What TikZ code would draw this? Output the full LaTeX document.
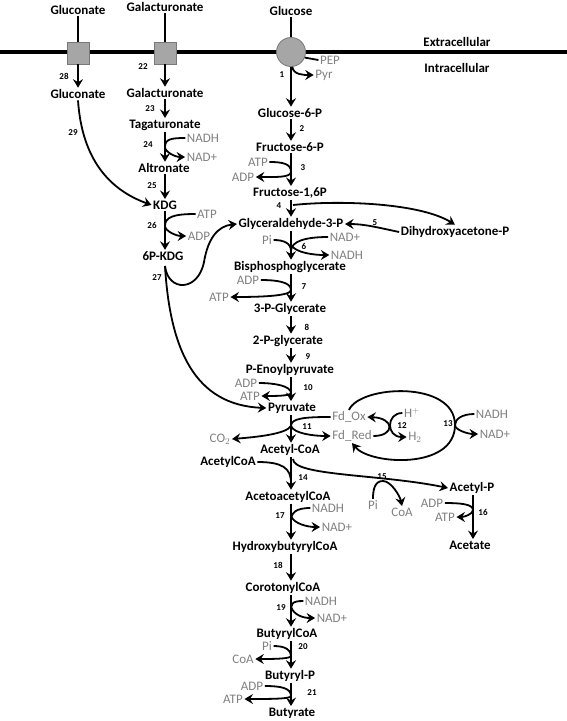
\documentclass[tikz,border=0pt]{standalone}
\usepackage{fontspec}
\setmainfont{Carlito}
\usetikzlibrary{arrows.meta}
\definecolor{cofgray}{RGB}{128,128,128}
\definecolor{portgray}{RGB}{166,166,166}
\definecolor{portedge}{RGB}{120,120,120}

\tikzset{
  met/.style={font=\bfseries\fontsize{13}{15}\selectfont, inner sep=1.5pt},
  cof/.style={font=\fontsize{13}{15}\selectfont, text=cofgray, inner sep=1.5pt},
  num/.style={font=\bfseries\fontsize{9}{10}\selectfont, inner sep=0pt},
  ln/.style={line width=1.8pt},
  rx/.style={->, line width=1.8pt},
  port/.style={draw=portedge, fill=portgray, line width=0.8pt, inner sep=0pt},
}

\begin{document}
\begin{tikzpicture}[x=1pt,y=-1pt,>={Stealth[length=8.5pt,width=10pt,inset=3pt]}]
    \useasboundingbox (0,0) rectangle (567,721);
    % columns
    \coordinate (lx) at (165,0);
    \coordinate (ax) at (291,0);
    \coordinate (cx) at (473,0);

    % membrane
    \draw[line width=4pt] (0,52) -- (567,52);
    \node[met] (extra) at (457,42) {Extracellular};
    \node[met] (intra) at (457,68) {Intracellular};
    \node[port, minimum size=22pt] (tglcn) at (78,53) {};
    \node[port, minimum size=22pt] (tgala) at (165,53) {};
    \node[port, circle, minimum size=29pt] (pts) at (291,52) {};

    % metabolites
    \node[met] (glcnx) at (78,10) {Gluconate};
    \node[met] (galax) at (165,7) {Galacturonate};
    \node[met] (glcx) at (291,11) {Glucose};
    \node[met] (glcn) at (78,94) {Gluconate};
    \node[met] (gala) at (165,93) {Galacturonate};
    \node[met] (tag) at (165,125) {Tagaturonate};
    \node[met] (alt) at (164,168) {Altronate};
    \node[met] (kdg) at (165,205) {KDG};
    \node[met] (kdgp) at (163,256) {6P-KDG};
    \node[met] (g6p) at (290,113) {Glucose-6-P};
    \node[met] (f6p) at (290,147) {Fructose-6-P};
    \node[met] (fbp) at (290,193) {Fructose-1,6P};
    \node[met] (gap) at (291,224) {Glyceraldehyde-3-P};
    \node[met] (dhap) at (455,232) {Dihydroxyacetone-P};
    \node[met] (bpg) at (290,267) {Bisphosphoglycerate};
    \node[met] (pgthree) at (290,309) {3-P-Glycerate};
    \node[met] (pgtwo) at (288,341) {2-P-glycerate};
    \node[met] (pep) at (290,370) {P-Enoylpyruvate};
    \node[met] (pyr) at (292,408) {Pyruvate};
    \node[met] (accoa) at (290,450) {Acetyl-CoA};
    \node[met] (accoab) at (228,462) {AcetylCoA};
    \node[met] (aacoa) at (288,497) {AcetoacetylCoA};
    \node[met] (acp) at (472,488) {Acetyl-P};
    \node[met] (ace) at (470,545) {Acetate};
    \node[met] (hbcoa) at (285,547) {HydroxybutyrylCoA};
    \node[met] (crcoa) at (283,588) {CorotonylCoA};
    \node[met] (bcoa) at (287,634) {ButyrylCoA};
    \node[met] (bp) at (290,676) {Butyryl-P};
    \node[met] (but) at (292,713) {Butyrate};

    % cofactors
    \node[cof] (pepone) at (330,60) {PEP};
    \node[cof] (pyrone) at (324,75) {Pyr};
    \node[cof] (atpthree) at (258,162) {ATP};
    \node[cof] (adpthree) at (243,177) {ADP};
    \node[cof] (nadhtf) at (203,138) {NADH};
    \node[cof] (nadtf) at (202,157) {NAD+};
    \node[cof] (atpts) at (207,214) {ATP};
    \node[cof] (adpts) at (199,236) {ADP};
    \node[cof] (pisix) at (267,240) {Pi};
    \node[cof] (nadsix) at (345,237) {NAD+};
    \node[cof] (nadhsix) at (347,255) {NADH};
    \node[cof] (adpseven) at (248,280) {ADP};
    \node[cof] (atpseven) at (219,297) {ATP};
    \node[cof] (adpten) at (246,383) {ADP};
    \node[cof] (atpten) at (250,396) {ATP};
    \node[cof] (fdox) at (349,417) {Fd\_Ox};
    \node[cof] (fdred) at (352,436) {Fd\_Red};
    \node[cof] (hplus) at (412,413) {H$^{+}$};
    \node[cof] (htwo) at (415,437) {H$_{2}$};
    \node[cof] (nadhtt) at (492,414) {NADH};
    \node[cof] (nadtt) at (495,434) {NAD+};
    \node[cof] (cotwo) at (220,439) {CO$_{2}$};
    \node[cof] (pifif) at (373,505) {Pi};
    \node[cof] (coafif) at (402,512) {CoA};
    \node[cof] (adpsix) at (432,503) {ADP};
    \node[cof] (atpsix) at (445,517) {ATP};
    \node[cof] (nadhsev) at (328,508) {NADH};
    \node[cof] (nadsev) at (337,527) {NAD+};
    \node[cof] (nadhnin) at (321,601) {NADH};
    \node[cof] (nadnin) at (332,618) {NAD+};
    \node[cof] (pitw) at (267,646) {Pi};
    \node[cof] (coatw) at (243,659) {CoA};
    \node[cof] (adptwo) at (252,686) {ADP};
    \node[cof] (atptwo) at (233,699) {ATP};

    % reaction numbers
    \node[num] (n1) at (282,75) {1};
    \node[num] (n2) at (302,129) {2};
    \node[num] (n3) at (303,168) {3};
    \node[num] (n4) at (279,206) {4};
    \node[num] (n5) at (375,223) {5};
    \node[num] (n6) at (304,246) {6};
    \node[num] (n7) at (304,287) {7};
    \node[num] (n8) at (307,327) {8};
    \node[num] (n9) at (308,357) {9};
    \node[num] (n10) at (308,388) {10};
    \node[num] (n11) at (307,427) {11};
    \node[num] (n12) at (402,426) {12};
    \node[num] (n13) at (448,424) {13};
    \node[num] (n14) at (303,478) {14};
    \node[num] (n15) at (382,477) {15};
    \node[num] (n16) at (483,512) {16};
    \node[num] (n17) at (280,516) {17};
    \node[num] (n18) at (278,565) {18};
    \node[num] (n19) at (281,608) {19};
    \node[num] (n20) at (303,647) {20};
    \node[num] (n21) at (312,693) {21};
    \node[num] (n22) at (143,67) {22};
    \node[num] (n23) at (150,109) {23};
    \node[num] (n24) at (148,145) {24};
    \node[num] (n25) at (152,186) {25};
    \node[num] (n26) at (152,225) {26};
    \node[num] (n27) at (157,278) {27};
    \node[num] (n28) at (64,76) {28};
    \node[num] (n29) at (73,133) {29};

    % joining points
    \coordinate (m3) at (291,172);
    \coordinate (mtf) at (165,147);
    \coordinate (mts) at (165,226);
    \coordinate (m6) at (291,251);
    \coordinate (m6b) at (291,245);
    \coordinate (m7) at (291,290);
    \coordinate (m10) at (291,393);
    \coordinate (m11) at (291,426);
    \coordinate (m13) at (455,425);
    \coordinate (m14) at (291,483);
    \coordinate (b15) at (293,459);
    \coordinate (m15) at (383,481);
    \coordinate (m16) at (473,510);
    \coordinate (m17) at (291,521);
    \coordinate (m17b) at (291,516);
    \coordinate (m19) at (291,612);
    \coordinate (m19b) at (291,607);
    \coordinate (m20) at (291,656);
    \coordinate (m21) at (291,696);
    \coordinate (b4) at (293,205);
    \coordinate (b27) at (165,266);

    % transport
    \draw[ln] (glcnx) -- (tglcn);
    \draw[ln] (galax) -- (tgala);
    \draw[ln] (glcx.south -| ax) -- (pts);
    \draw[rx] (tglcn) -- (glcn.north -| tglcn);
    \draw[rx] (tgala) -- (gala.north -| tgala);
    \draw[rx] (pts.south) -- (g6p.north -| ax);
    \draw[ln] (pepone.west) -- (pts.-22);
    \draw[rx] (pts.-85) .. controls +(1,8) and +(-10,0) .. (pyrone.west);

    % galacturonate branch
    \draw[rx] (gala.south -| lx) -- (tag.north -| lx);
    \draw[rx] (tag.south -| lx) -- (alt.north -| lx);
    \draw[ln] (nadhtf.west) .. controls +(-14,0) and +(0,-8) .. (mtf);
    \draw[rx] (mtf) .. controls +(0,5) and +(-10,0) .. (nadtf.west);
    \draw[rx] (alt.south -| lx) -- (kdg.north -| lx);
    \draw[rx] (kdg.south -| lx) -- (kdgp.north -| lx);
    \draw[ln] (atpts.west) .. controls +(-22,0) and +(0,-9) .. (mts);
    \draw[rx] (mts) .. controls +(0,5) and +(-10,0) .. (adpts.west);
    \draw[rx] (glcn.south) .. controls (82,160) and (110,190) .. (kdg.west);
    \draw[rx] (b27) .. controls (168,292) and (198,292) .. (204,262) .. controls (208,238) and (218,226) .. (gap.west);
    \draw[rx] (b27) .. controls (170,350) and (195,405) .. (pyr.west);

    % glycolysis
    \draw[rx] (g6p.south -| ax) -- (f6p.north -| ax);
    \draw[rx] (f6p.south -| ax) -- (fbp.north -| ax);
    \draw[ln] (atpthree.east) .. controls +(14,0) and +(0,-8) .. (m3);
    \draw[rx] (m3) .. controls +(0,6) and +(16,0) .. (adpthree.east);
    \draw[rx] (fbp.south -| ax) -- (gap.north -| ax);
    \draw[rx] (b4) .. controls (340,200) and (420,203) .. (dhap.north);
    \draw[rx] (dhap.west) .. controls (380,228) and (365,224) .. (gap.east);
    \draw[rx] (gap.south -| ax) -- (bpg.north -| ax);
    \draw[ln] (pisix.east) .. controls +(10,0) and +(0,-8) .. (m6);
    \draw[ln] (nadsix.west) .. controls +(-22,0) and +(0,-10) .. (m6);
    \draw[rx] (m6b) .. controls +(5,8) and +(-15,0) .. (nadhsix.west);
    \draw[rx] (bpg.south -| ax) -- (pgthree.north -| ax);
    \draw[ln] (adpseven.east) .. controls +(16,0) and +(0,-8) .. (m7);
    \draw[rx] (m7) .. controls +(0,6) and +(30,0) .. (atpseven.east);
    \draw[rx] (pgthree.south -| ax) -- (pgtwo.north -| ax);
    \draw[rx] (pgtwo.south -| ax) -- (pep.north -| ax);
    \draw[rx] (pep.south -| ax) -- (pyr.north -| ax);
    \draw[ln] (adpten.east) .. controls +(16,0) and +(0,-7) .. (m10);
    \draw[rx] (m10) .. controls +(0,3) and +(12,0) .. (atpten.east);

    % pyruvate to acetyl-CoA and ferredoxin
    \draw[rx] (pyr.south -| ax) -- (accoa.north -| ax);
    \draw[ln] (fdox.west) .. controls +(-25,0) and +(0,-8) .. (m11);
    \draw[rx] (m11) .. controls +(3,8) and +(-15,0) .. (fdred.west);
    \draw[rx] (m11) .. controls +(-5,8) and +(25,-2) .. (cotwo.east);
    \draw[rx] (fdred.east) .. controls (395,436) and (395,418) .. (fdox.east);
    \draw[rx] (hplus.west) .. controls (386,413) and (386,437) .. (htwo.west);
    \draw[rx] (fdox.north) .. controls (360,385) and (455,380) .. (m13) .. controls (455,470) and (370,465) .. (fdred.south);
    \draw[ln] (nadhtt.west) .. controls +(-12,0) and +(0,-6) .. (m13);
    \draw[rx] (m13) .. controls +(0,5) and +(-10,0) .. (nadtt.west);

    % acetate and butyrate
    \draw[rx] (accoa.south -| ax) -- (aacoa.north -| ax);
    \draw[ln] (accoab.east) .. controls +(25,0) and +(0,-15) .. (m14);
    \draw[rx] (b15) .. controls (293,476) and (380,474) .. (acp.west);
    \draw[ln] (pifif.north) .. controls +(0,-10) and +(-8,0) .. (m15);
    \draw[rx] (m15) .. controls +(8,0) and +(-2,-10) .. (coafif.north);
    \draw[rx] (acp.south -| cx) -- (ace.north -| cx);
    \draw[ln] (adpsix.east) .. controls +(15,0) and +(0,-6) .. (m16);
    \draw[rx] (m16) .. controls +(0,4) and +(8,0) .. (atpsix.east);
    \draw[rx] (aacoa.south -| ax) -- (hbcoa.north -| ax);
    \draw[ln] (nadhsev.west) .. controls +(-15,0) and +(0,-8) .. (m17);
    \draw[rx] (m17b) .. controls +(3,8) and +(-12,0) .. (nadsev.west);
    \draw[rx] (hbcoa.south -| ax) -- (crcoa.north -| ax);
    \draw[rx] (crcoa.south -| ax) -- (bcoa.north -| ax);
    \draw[ln] (nadhnin.west) .. controls +(-12,0) and +(0,-8) .. (m19);
    \draw[rx] (m19b) .. controls +(3,8) and +(-12,0) .. (nadnin.west);
    \draw[rx] (bcoa.south -| ax) -- (bp.north -| ax);
    \draw[ln] (pitw.east) .. controls +(12,0) and +(0,-6) .. (m20);
    \draw[rx] (m20) .. controls +(0,3) and +(15,0) .. (coatw.east);
    \draw[rx] (bp.south -| ax) -- (but.north -| ax);
    \draw[ln] (adptwo.east) .. controls +(16,0) and +(0,-8) .. (m21);
    \draw[rx] (m21) .. controls +(0,3) and +(25,0) .. (atptwo.east);
\end{tikzpicture}
\end{document}
